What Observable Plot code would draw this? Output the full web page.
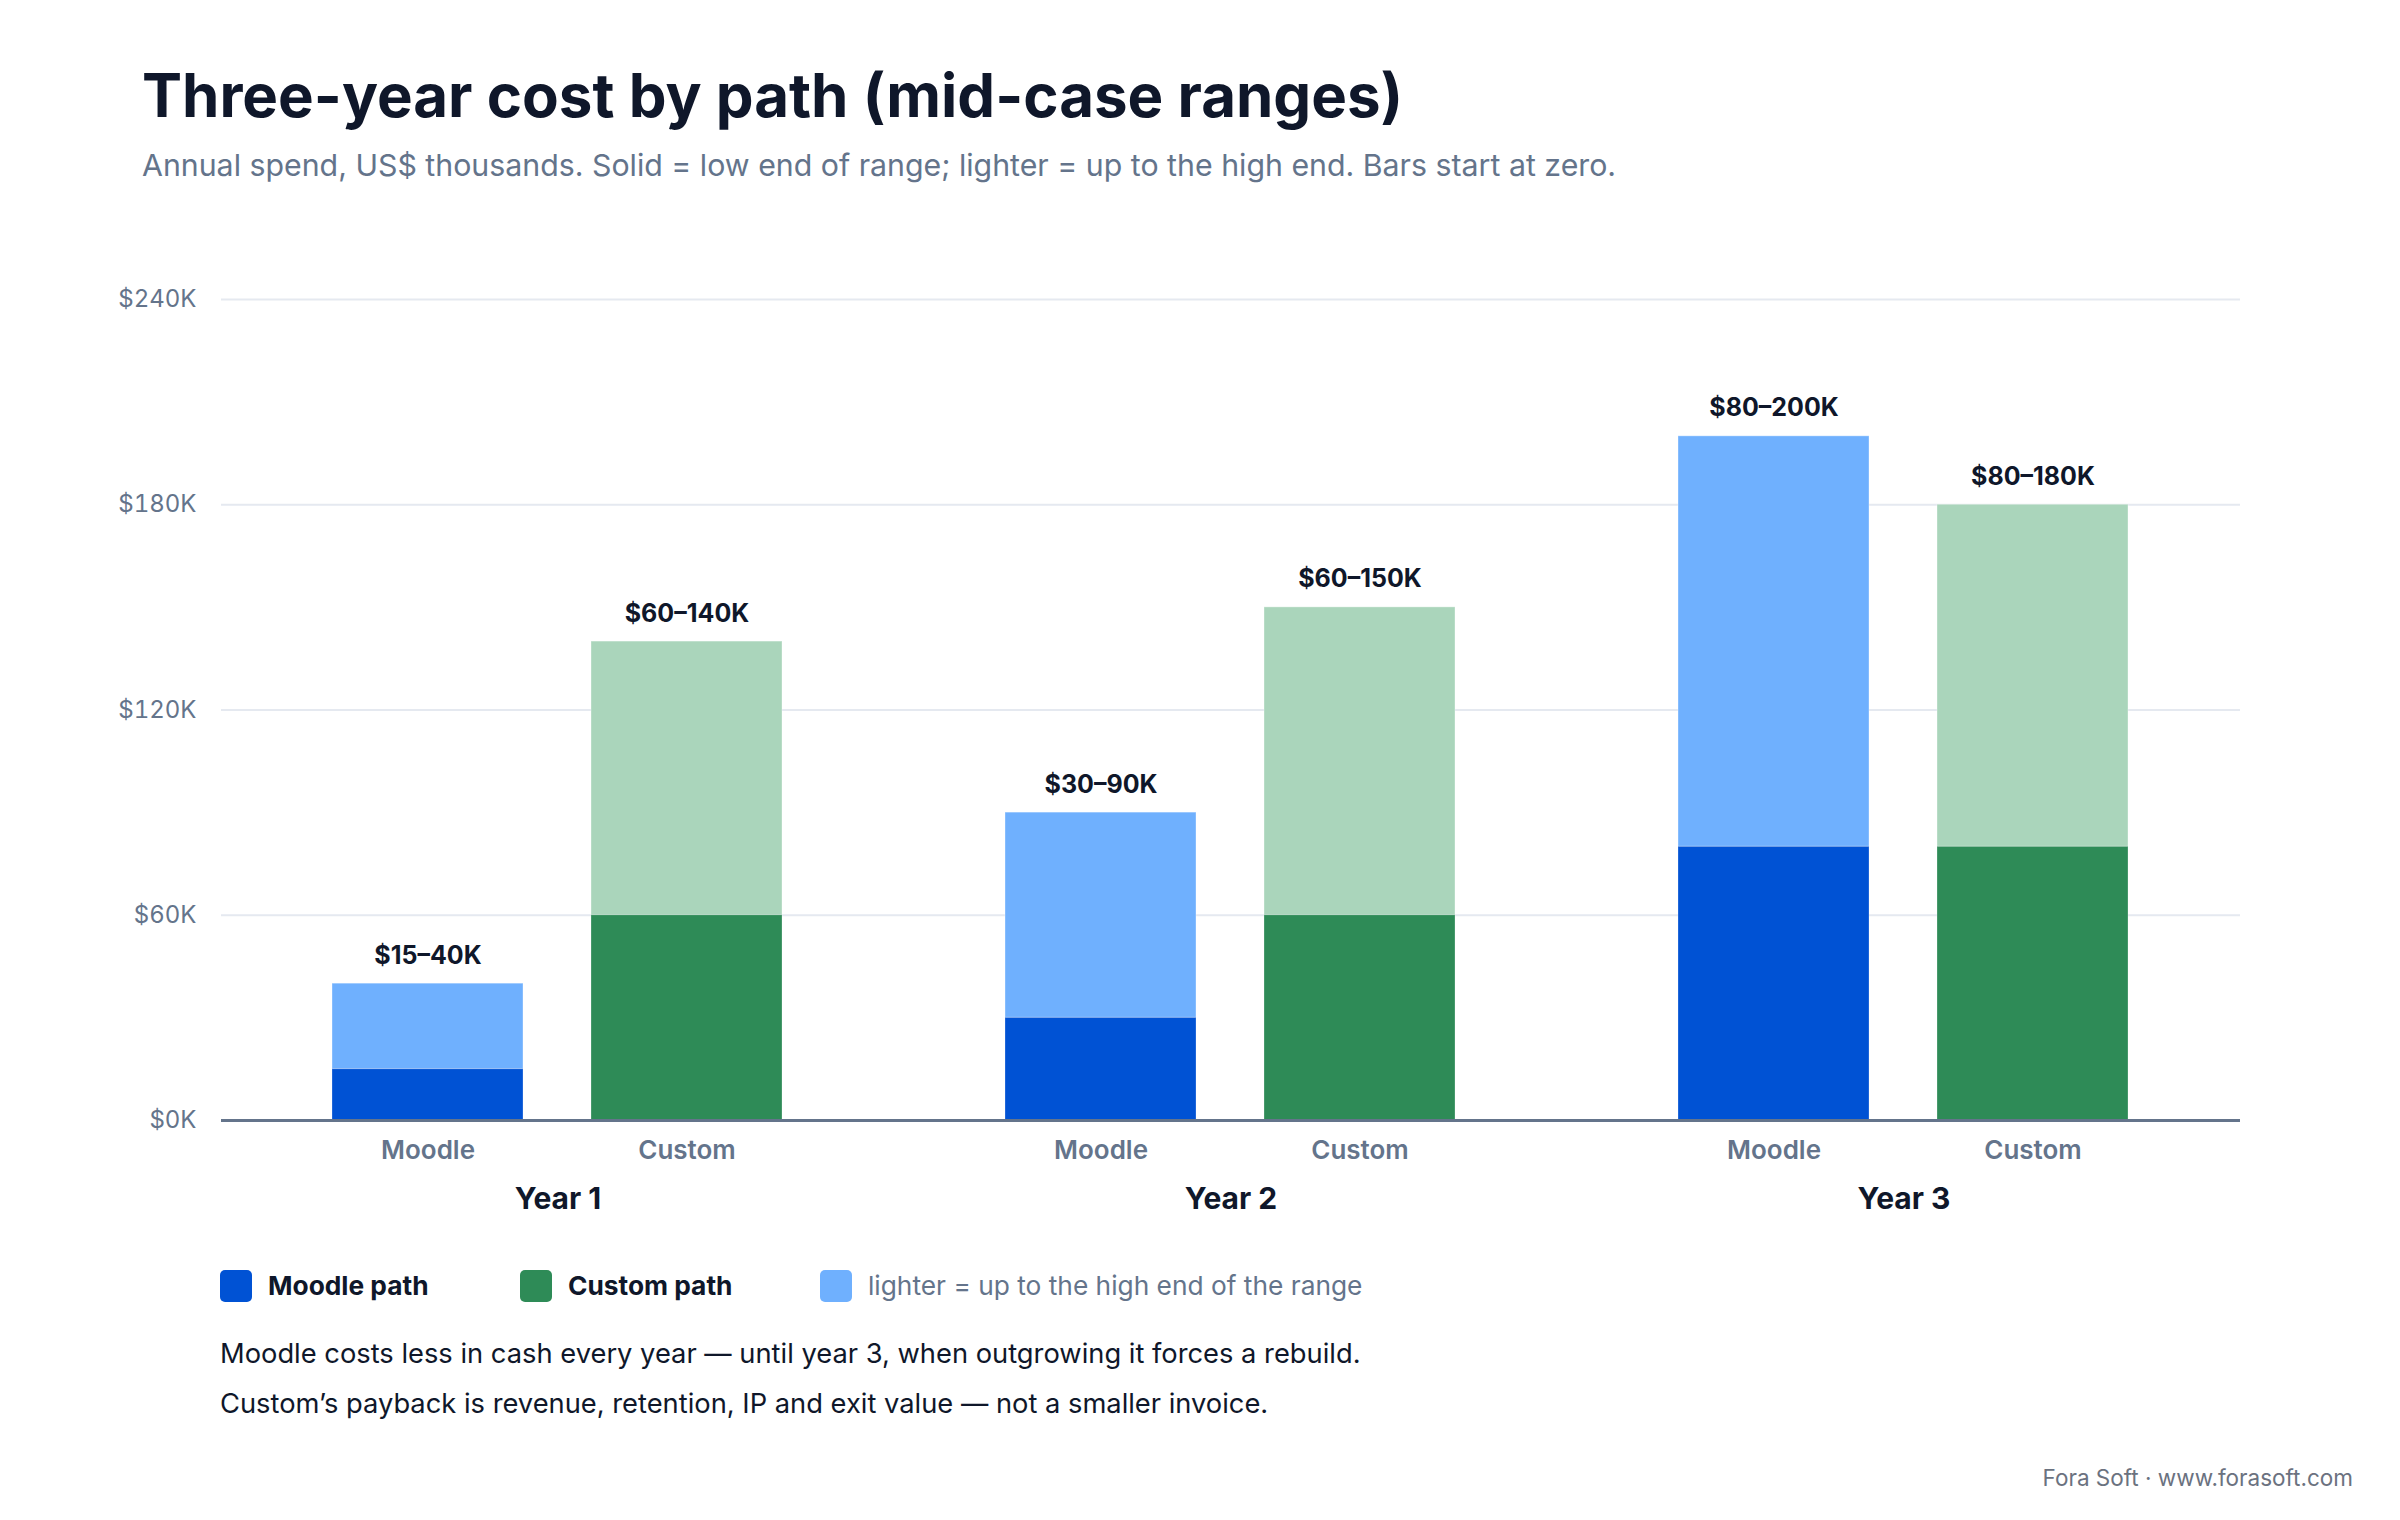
<!DOCTYPE html>
<html>
<head>
<meta charset="utf-8">
<script src="https://cdn.jsdelivr.net/npm/d3@7"></script>
<script src="https://cdn.jsdelivr.net/npm/@observablehq/plot@0.6"></script>
<style>
  html, body { margin: 0; padding: 0; background: #fff; }
  body { width: 2400px; height: 1520px; position: relative; overflow: hidden; font-family: Inter, "Noto Sans", sans-serif; }
  .abs { position: absolute; white-space: nowrap; line-height: 1; }
  #title { left: 142px; top: 65px; font-size: 60px; font-weight: 700; color: #0f172a; }
  #subtitle { left: 142px; top: 150px; font-size: 30.3px; font-weight: 400; color: #64748b; }
  #chart { position: absolute; left: 0; top: 240px; }
  #legend { left: 220px; top: 1270px; height: 32px; }
  .item { position: absolute; top: 0; display: flex; align-items: center; height: 32px; }
  .sw { width: 32px; height: 32px; border-radius: 5px; margin-right: 16px; flex: none; }
  .lt { font-size: 26.3px; line-height: 1; }
  #caption { left: 220px; top: 1329px; font-size: 27.3px; line-height: 50px; color: #0f172a; }
  #footer { right: 47px; top: 1467px; font-size: 22.5px; color: #6b7280; }
</style>
</head>
<body>
<div id="title" class="abs">Three-year cost by path (mid-case ranges)</div>
<div id="subtitle" class="abs">Annual spend, US$ thousands. Solid = low end of range; lighter = up to the high end. Bars start at zero.</div>
<div id="chart"></div>
<div id="legend" class="abs"></div>
<div id="caption" class="abs"></div>
<div id="footer" class="abs">Fora Soft · www.forasoft.com</div>
<script>
// ---- data ----
const years = ["Year 1", "Year 2", "Year 3"];
const paths = ["Moodle", "Custom"];
const moodleLow = [15, 30, 80];
const moodleHigh = [40, 90, 200];
const customLow = [60, 60, 80];
const customHigh = [140, 150, 180];
const yTicks = [0, 60, 120, 180, 240];
const solidColors = ["#0052d4", "#2e8b57"];
const lightColors = ["#6fb0fe", "#aad5bb"];
const legendLabels = ["Moodle path", "Custom path", "lighter = up to the high end of the range"];
const captionLines = [
  "Moodle costs less in cash every year — until year 3, when outgrowing it forces a rebuild.",
  "Custom’s payback is revenue, retention, IP and exit value — not a smaller invoice."
];

// ---- table ----
const rows = [];
years.forEach((yr, i) => {
  rows.push({year: yr, path: "Moodle", low: moodleLow[i], high: moodleHigh[i]});
  rows.push({year: yr, path: "Custom", low: customLow[i], high: customHigh[i]});
});
rows.forEach(d => d.label = `$${d.low}–${d.high}K`);

const solidOf = p => solidColors[paths.indexOf(p)];
const lightOf = p => lightColors[paths.indexOf(p)];

const chart = Plot.plot({
  width: 2400,
  height: 1000,
  marginLeft: 220,
  marginRight: 160,
  marginTop: 59,
  marginBottom: 120,
  style: {fontFamily: "Inter, 'Noto Sans', sans-serif", background: "#fff", overflow: "visible"},
  fx: {domain: years, padding: 0, label: null},
  x: {domain: paths, paddingInner: 0.2615, paddingOuter: 0.4256, label: null},
  y: {domain: [0, 240], label: null},
  marks: [
    Plot.gridY(yTicks, {stroke: "#e5e9f0", strokeOpacity: 1, strokeWidth: 2}),
    Plot.barY(rows, {fx: "year", x: "path", y1: "low", y2: "high", fill: d => lightOf(d.path), stroke: "#ffffff", strokeOpacity: 0.35, strokeWidth: 1}),
    Plot.barY(rows, {fx: "year", x: "path", y1: 0, y2: "low", fill: d => solidOf(d.path), stroke: "#ffffff", strokeOpacity: 0.25, strokeWidth: 1}),
    Plot.ruleY([0], {stroke: "#64748b", strokeWidth: 3}),
    Plot.text(rows, {fx: "year", x: "path", y: "high", text: "label", dy: -20, lineAnchor: "bottom", fontSize: 25, fontWeight: 700, fill: "#0f172a"}),
    Plot.axisY(yTicks, {tickSize: 0, tickPadding: 25, tickFormat: d => `$${d}K`, fontSize: 24, fill: "#64748b", label: null}),
    Plot.axisX({tickSize: 0, tickPadding: 20, fontSize: 26, fontWeight: 600, fill: "#64748b", label: null}),
    Plot.axisFx({anchor: "bottom", tickSize: 0, tickPadding: 67, fontSize: 30, fontWeight: 700, fill: "#0f172a", label: null})
  ]
});
document.getElementById("chart").appendChild(chart);

// ---- legend ----
const legend = document.getElementById("legend");
const legendX = [0, 300, 600];
const legendSw = [solidColors[0], solidColors[1], lightColors[0]];
const legendStyle = [
  {w: 700, c: "#0f172a"},
  {w: 700, c: "#0f172a"},
  {w: 400, c: "#64748b"}
];
legendLabels.forEach((t, i) => {
  const it = document.createElement("div");
  it.className = "item";
  it.style.left = legendX[i] + "px";
  const sw = document.createElement("div");
  sw.className = "sw";
  sw.style.background = legendSw[i];
  const tx = document.createElement("span");
  tx.className = "lt";
  tx.textContent = t;
  tx.style.fontWeight = legendStyle[i].w;
  tx.style.color = legendStyle[i].c;
  it.appendChild(sw);
  it.appendChild(tx);
  legend.appendChild(it);
});

// ---- caption ----
const cap = document.getElementById("caption");
captionLines.forEach(l => {
  const d = document.createElement("div");
  d.textContent = l;
  cap.appendChild(d);
});
</script>
</body>
</html>
